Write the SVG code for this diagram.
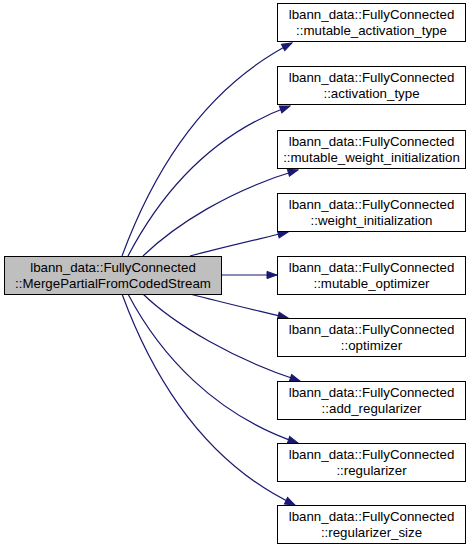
<svg xmlns="http://www.w3.org/2000/svg" width="475" height="551" viewBox="0 0 475 551">
<style>
.n rect{fill:#ffffff;stroke:#000000;stroke-width:1}
.n.cur rect{fill:#bfbfbf}
.n text{font-family:"Liberation Sans",Arial,sans-serif;font-size:13.3px;text-anchor:middle;fill:#000}
.e path{fill:none;stroke:#191970;stroke-width:1.2}
</style>
<defs>
<marker id="ah" markerUnits="userSpaceOnUse" markerWidth="12" markerHeight="10" viewBox="-1 -5 12 10" refX="10" refY="0" orient="auto">
<path d="M0,-3.6 L10,0 L0,3.6 Z" fill="#191970" stroke="#191970" stroke-width="1"/>
</marker>
</defs>
<g id="connectors" class="e">
<path d="M122,256 C150,180 200,90 292,43" marker-end="url(#ah)"/>
<path d="M128,256 C160,195 210,135 290,106" marker-end="url(#ah)"/>
<path d="M143,256 C175,225 230,190 298,170" marker-end="url(#ah)"/>
<path d="M190,256 C220,248 255,240 288,232" marker-end="url(#ah)"/>
<path d="M222,275 L277,275" marker-end="url(#ah)"/>
<path d="M190,294 C220,302 255,310 288,318" marker-end="url(#ah)"/>
<path d="M143,294 C175,325 235,360 300,381" marker-end="url(#ah)"/>
<path d="M128,294 C160,355 215,415 298,443" marker-end="url(#ah)"/>
<path d="M122,294 C150,370 200,460 295,505" marker-end="url(#ah)"/>
</g>
<g id="node-main" class="n cur">
<rect x="4.5" y="256.5" width="217" height="38"/>
<text x="113" y="272">lbann_data::FullyConnected</text>
<text x="113" y="288">::MergePartialFromCodedStream</text>
</g>
<g id="node-1" class="n">
<rect x="277.5" y="3.5" width="188" height="38"/>
<text x="371.5" y="19">lbann_data::FullyConnected</text>
<text x="371.5" y="35">::mutable_activation_type</text>
</g>
<g id="node-2" class="n">
<rect x="277.5" y="66.5" width="188" height="38"/>
<text x="371.5" y="82">lbann_data::FullyConnected</text>
<text x="371.5" y="98">::activation_type</text>
</g>
<g id="node-3" class="n">
<rect x="277.5" y="130.5" width="188" height="38"/>
<text x="371.5" y="146">lbann_data::FullyConnected</text>
<text x="371.5" y="162">::mutable_weight_initialization</text>
</g>
<g id="node-4" class="n">
<rect x="277.5" y="193.5" width="188" height="38"/>
<text x="371.5" y="209">lbann_data::FullyConnected</text>
<text x="371.5" y="225">::weight_initialization</text>
</g>
<g id="node-5" class="n">
<rect x="277.5" y="256.5" width="188" height="38"/>
<text x="371.5" y="272">lbann_data::FullyConnected</text>
<text x="371.5" y="288">::mutable_optimizer</text>
</g>
<g id="node-6" class="n">
<rect x="277.5" y="318.5" width="188" height="38"/>
<text x="371.5" y="334">lbann_data::FullyConnected</text>
<text x="371.5" y="350">::optimizer</text>
</g>
<g id="node-7" class="n">
<rect x="277.5" y="381.5" width="188" height="38"/>
<text x="371.5" y="397">lbann_data::FullyConnected</text>
<text x="371.5" y="413">::add_regularizer</text>
</g>
<g id="node-8" class="n">
<rect x="277.5" y="443.5" width="188" height="38"/>
<text x="371.5" y="459">lbann_data::FullyConnected</text>
<text x="371.5" y="475">::regularizer</text>
</g>
<g id="node-9" class="n">
<rect x="277.5" y="505.5" width="188" height="38"/>
<text x="371.5" y="521">lbann_data::FullyConnected</text>
<text x="371.5" y="537">::regularizer_size</text>
</g>
</svg>
